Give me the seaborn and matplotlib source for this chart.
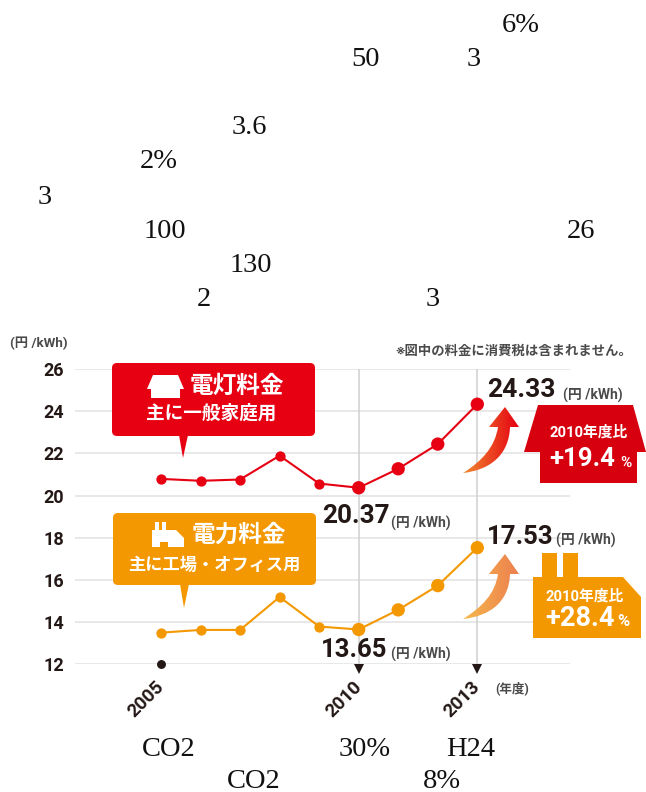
"""Electricity price chart: residential and industrial tariffs, 2005-2013."""

import numpy as np
import pandas as pd
import matplotlib
matplotlib.use("Agg")
import matplotlib.pyplot as plt
from matplotlib.colors import LinearSegmentedColormap
from matplotlib.patches import FancyBboxPatch, PathPatch, Polygon
from matplotlib.path import Path
from matplotlib.transforms import ScaledTranslation
import seaborn as sns

YEARS = [2005, 2006, 2007, 2008, 2009, 2010, 2011, 2012, 2013]
LIGHTING = [20.79, 20.70, 20.76, 21.89, 20.57, 20.37, 21.27, 22.44, 24.33]
POWER = [13.50, 13.63, 13.63, 15.19, 13.79, 13.65, 14.58, 15.73, 17.53]
Y_TICKS = [12, 14, 16, 18, 20, 22, 24, 26]
X_TICKS = [2005, 2010, 2013]

# stray latin fragments of the body text around the chart (text, left x, centre y)
BODY_TEXT = [
    ("6%", 502, 25), ("50", 351, 59), ("3", 467, 59), ("3.6", 232, 127),
    ("2%", 140, 162), ("3", 38, 197), ("100", 144, 231), ("26", 567, 231),
    ("130", 230, 266), ("2", 197, 300), ("3", 426, 300), ("CO2", 142, 749),
    ("30%", 339, 749), ("H24", 446, 749), ("CO2", 227, 781), ("8%", 423, 781),
]

RED = "#e60012"
DARK_RED = "#d7000f"
ORANGE = "#f39800"
INK = "#231815"
GREY = "#4a4a4a"
LATIN_JP = ["Roboto", "Noto Sans CJK JP"]

sns.set_style("white")
plt.rcParams["font.family"] = LATIN_JP

W, H = 646, 792
fig = plt.figure(figsize=(W / 100, H / 100), dpi=100)

# ---------------------------------------------------------------
# Chart axes (pixel box of the plotting area)
# ---------------------------------------------------------------
left, right, top, bottom = 75, 570, 369, 664.3
ax = fig.add_axes([left / W, 1 - bottom / H, (right - left) / W, (bottom - top) / H])
px_per_year = (477.3 - 161) / 8
ax.set_xlim(2005 - (161 - left) / px_per_year, 2005 + (right - 161) / px_per_year)
ax.set_ylim(12, 26)

df = pd.DataFrame({
    "year": YEARS * 2,
    "price": LIGHTING + POWER,
    "kind": ["lighting"] * len(YEARS) + ["power"] * len(YEARS),
})

ax.set_yticks(Y_TICKS)
ax.grid(axis="y", color="#e2e2e2", linewidth=1.1)
ax.grid(axis="x", visible=False)
for year in [2010, 2013]:
    ax.axvline(year, color="#cfcfcf", linewidth=1.1, zorder=1)

sns.lineplot(
    data=df, x="year", y="price", hue="kind",
    palette={"lighting": RED, "power": ORANGE},
    marker="o", markersize=7.4, markeredgewidth=0, linewidth=1.5,
    legend=False, ax=ax, zorder=3,
)
recent = df[df["year"] >= 2010]
sns.scatterplot(
    data=recent, x="year", y="price", hue="kind",
    palette={"lighting": RED, "power": ORANGE},
    s=92, linewidth=0, legend=False, ax=ax, zorder=4,
)

ax.plot([2005], [12], "o", color=INK, markersize=5.4, clip_on=False, zorder=5)
# triangles hang just below the 12 line
below = ax.transData + ScaledTranslation(0, -0.05, fig.dpi_scale_trans)
ax.plot([2010, 2013], [12, 12], linestyle="none", marker="v", color=INK,
        markersize=6.8, markeredgewidth=0, clip_on=False, zorder=5, transform=below)

ax.set_xlabel("")
ax.set_ylabel("")
ax.set_xticks(X_TICKS)
ax.set_xticklabels([str(y) for y in X_TICKS], rotation=45, ha="right", va="center",
                   rotation_mode="anchor", fontsize=13.5, fontweight="bold", color=INK)
ax.tick_params(axis="x", length=0, pad=14)
ax.tick_params(axis="y", length=0, pad=8, labelsize=13, labelcolor=INK)
for label in ax.get_yticklabels():
    label.set_fontweight("bold")
sns.despine(ax=ax, left=True, bottom=True)

# ---------------------------------------------------------------
# Overlay in image pixels for callouts, icons and labels
# ---------------------------------------------------------------
ov = fig.add_axes([0, 0, 1, 1])
ov.patch.set_visible(False)
ov.axis("off")


def put(x, y, text, size, color=INK, weight="bold", ha="left", **kw):
    ov.text(x, y, text, fontsize=size, color=color, fontweight=weight,
            ha=ha, va="center", **kw)


def callout(x0, y0, x1, y1, tip, color):
    ov.add_patch(FancyBboxPatch((x0 + 4, y0 + 4), x1 - x0 - 8, y1 - y0 - 8,
                                boxstyle="round,pad=4,rounding_size=5",
                                facecolor=color, edgecolor="none", zorder=6))
    ov.add_patch(Polygon([(tip[0] - 4, y1 - 1), (tip[0] + 5, y1 - 1), tip],
                         facecolor=color, edgecolor="none", zorder=6))


def gradient_arrow(tip_y, base_y, tail_y, c_tail, c_head):
    verts = [(505, tip_y), (519, base_y), (510, base_y),
             (509, base_y + 28), (490, tail_y - 3), (463, tail_y),
             (482, tail_y - 12), (495, base_y + 20), (498, base_y),
             (489, base_y), (505, tip_y)]
    codes = [Path.MOVETO, Path.LINETO, Path.LINETO,
             Path.CURVE4, Path.CURVE4, Path.CURVE4,
             Path.CURVE4, Path.CURVE4, Path.CURVE4,
             Path.LINETO, Path.CLOSEPOLY]
    clip = PathPatch(Path(verts, codes), facecolor="none", edgecolor="none")
    ov.add_patch(clip)
    cmap = LinearSegmentedColormap.from_list("arrow", [c_tail, c_head])
    grad = np.linspace(0, 1, 64).reshape(1, -1)
    img = ov.imshow(grad, cmap=cmap, extent=(463, 519, tail_y, tip_y),
                    aspect="auto", zorder=6)
    img.set_clip_path(clip)


# red callout with house icon
callout(112, 363, 315, 436, (183, 458), RED)
ov.add_patch(Polygon([(147, 389), (153, 375), (178, 375), (184, 389), (180, 389),
                      (180, 398), (151, 398), (151, 389)],
                     facecolor="white", edgecolor="none", zorder=7))
put(190, 386, "電灯料金", 17, color="white", zorder=7)
put(146, 414, "主に一般家庭用", 13.4, color="white", zorder=7)

# orange callout with factory icon
callout(113, 513, 316, 585, (184, 608), ORANGE)
ov.add_patch(Polygon([(152, 547), (152, 530), (155, 530), (155, 522), (159, 522), (159, 530),
                      (162, 530), (162, 522), (166, 522), (166, 530), (176, 530),
                      (184, 538), (184, 547), (168, 547), (168, 542), (160, 542), (160, 547)],
                     facecolor="white", edgecolor="none", zorder=7))
put(192, 535, "電力料金", 17, color="white", zorder=7)
put(128, 565, "主に工場・オフィス用", 12.4, color="white", zorder=7)

# red house badge
ov.add_patch(Polygon([(538, 405), (633, 405), (646, 452), (637, 452), (637, 483),
                      (540, 483), (540, 452), (524, 452)],
                     facecolor=DARK_RED, edgecolor="none", zorder=6))
put(549, 432, "2010年度比", 10.6, color="white", zorder=7)
put(549, 459, "+19.4", 18.5, color="white", zorder=7)
put(620, 463, "%", 11, color="white", zorder=7)

# orange factory badge
ov.add_patch(Polygon([(533, 577), (542, 577), (542, 553), (557, 553), (557, 577), (563, 577),
                      (563, 553), (578, 553), (578, 577), (623, 577), (641, 597),
                      (641, 638), (533, 638)],
                     facecolor=ORANGE, edgecolor="none", zorder=6))
put(545, 596, "2010年度比", 10.6, color="white", zorder=7)
put(545, 618, "+28.4", 19.5, color="white", zorder=7)
put(617, 622, "%", 12, color="white", zorder=7)

gradient_arrow(407, 427, 473, "#f08a30", RED)
gradient_arrow(554, 574, 619, "#f7b84a", "#ec7f50")

# value labels and units
put(487, 390, "24.33", 19, zorder=7)
put(563, 395, "(円 /kWh)", 10, color=GREY, zorder=7)
put(322, 516, "20.37", 18.8, zorder=7)
put(391, 523, "(円 /kWh)", 10, color=GREY, zorder=7)
put(487, 537, "17.53", 18.5, zorder=7)
put(556, 540, "(円 /kWh)", 10, color=GREY, zorder=7)
put(321, 650, "13.65", 18.5, zorder=7)
put(391, 654, "(円 /kWh)", 10, color=GREY, zorder=7)
put(10, 343, "(円 /kWh)", 9.6, color=GREY)
put(495, 688, "(年度)", 9, color=GREY)
put(396, 351, "※図中の料金に消費税は含まれません。", 9.6, color=GREY)

# body text fragments
for text, x, y in BODY_TEXT:
    ov.text(x, y, text, fontsize=20.5, family="Liberation Serif", color="#111111",
            ha="left", va="center")

ov.set_xlim(0, W)
ov.set_ylim(H, 0)

fig.savefig("out.png", dpi=100)
